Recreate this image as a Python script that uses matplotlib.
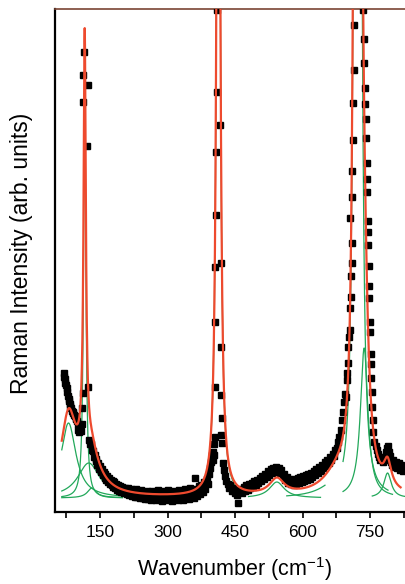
import numpy as np
import matplotlib
matplotlib.use("Agg")
import matplotlib.pyplot as plt
from matplotlib.ticker import MultipleLocator

plt.rcParams['font.family'] = ['Liberation Sans', 'DejaVu Sans']
plt.rcParams['mathtext.fontset'] = 'custom'
plt.rcParams['mathtext.rm'] = 'Liberation Sans'
plt.rcParams['mathtext.it'] = 'Liberation Sans'

# measured spectrum (wavenumber, intensity in arb. units)
wn_data = [
    70, 71, 72, 73, 74, 76, 77, 79, 80, 81, 83, 84, 86, 88, 89, 91, 93, 94, 96, 97,
    99, 100, 101, 103, 104, 106, 108, 110,
    111, 112, 112.5, 113, 115, 120, 122.7, 123,
    126, 128, 130, 132, 134, 136, 138, 140, 142, 144, 146, 148, 150, 152, 154, 156,
    158, 160, 162, 164, 166, 168, 170, 172, 174, 176, 178, 180, 182, 184, 186, 188,
    190, 192, 195, 197, 200, 203, 206, 209, 212, 215, 218, 221, 224, 227, 230, 233,
    236, 239, 242, 245, 248, 251, 254, 257, 260, 263, 266, 269, 272, 275, 278, 281,
    284, 287, 290, 293, 296, 299, 302, 305, 308, 311, 314, 317, 320, 323, 326, 329,
    332, 335, 338, 341, 344, 347, 350, 353, 356, 359, 361, 363, 366, 369, 372, 375,
    378, 381, 384, 387, 390, 392, 395, 397, 399,
    401, 402, 403, 404, 405, 405.5, 405, 406, 407, 408, 409, 409.5,
    417, 418, 419, 420, 421, 420, 421, 424, 426, 428, 431, 434, 437, 440, 443, 446,
    449, 452, 455, 457, 460, 463, 466, 469, 472, 475, 478, 481, 484, 487, 490, 493,
    496, 499, 502, 505, 508, 511, 514, 517, 520, 523, 526, 529, 532, 535, 538, 541,
    544, 547, 550, 553, 556, 559, 562, 565, 568, 571, 574, 577, 580, 583, 586, 589,
    592, 595, 598, 601, 604, 607, 610, 613, 616, 619, 622, 625, 628, 631, 634, 637,
    640, 643, 646, 649, 652, 655, 658, 661, 664, 667, 670, 673, 676, 679, 682, 685,
    688, 690, 692, 694,
    697, 699, 700, 701, 702, 704, 704.5, 705.6, 706, 707, 707.5, 709, 709.5, 710,
    710.5, 711.6, 713, 713.5, 714.4,
    735, 737, 737.5, 739, 740, 740.5, 741, 742.5, 743, 744, 745, 746, 746.5, 747.5,
    748, 748.5, 750, 750.5, 751.6, 752, 752.5, 754, 755, 756, 757, 760, 763, 765,
    767, 770, 772, 775, 778, 781, 784, 786, 788, 790, 792, 794, 796, 799, 802, 805,
    808, 811, 814, 817, 820, 823, 826,
]
raman = [
    139, 135, 133, 129, 127, 124, 120, 116, 113, 111, 108, 106, 104, 101, 100, 99, 97, 96, 94, 93,
    91, 82, 88, 86, 80, 84, 81, 88,
    104, 119, 437, 410, 460, 366, 427, 125,
    72, 68, 68, 62, 61, 55, 57, 51, 53, 47, 49, 43, 46, 40, 43, 37,
    40, 34, 38, 32, 36, 30, 34, 28, 32, 27, 31, 25, 30, 24, 28, 22,
    27, 21, 26, 20, 25, 19, 24, 18, 24, 17, 23, 16, 22, 15, 23, 15,
    21, 14, 22, 14, 20, 13, 21, 13, 20, 12, 21, 14, 19, 12, 22, 13,
    19, 11, 21, 14, 18, 12, 22, 13, 19, 11, 21, 14, 18, 12, 22, 13,
    20, 12, 23, 14, 19, 13, 24, 15, 21, 14, 34, 23, 16, 26, 18, 27,
    20, 30, 23, 33, 28, 38, 44, 50, 57,
    52, 60, 57, 68, 75, 125, 190, 245, 297, 360, 420, 502,
    387, 249, 165, 117, 94, 77, 69, 49, 42, 36, 31, 28, 24, 27, 21, 24,
    19, 22, 17, 9, 20, 23, 19, 25, 21, 27, 22, 28, 24, 29, 25, 31,
    27, 32, 29, 34, 31, 36, 33, 38, 35, 41, 37, 43, 39, 44, 40, 45,
    41, 44, 39, 42, 36, 38, 32, 35, 29, 33, 28, 32, 27, 33, 28, 34,
    29, 35, 30, 36, 31, 37, 32, 38, 33, 39, 35, 41, 37, 43, 39, 45,
    41, 47, 44, 50, 46, 52, 49, 55, 52, 58, 56, 62, 64, 70, 75, 82,
    92, 100, 110, 118,
    115, 132, 139, 165, 149, 175, 182, 204, 294, 215, 236, 249, 269, 315,
    341, 372, 409, 442, 487,
    502, 473, 449, 424, 408, 393, 374, 349, 333, 320, 291, 280, 267, 246,
    226, 214, 190, 180, 158, 148, 134, 120, 105, 92, 80, 70, 66, 62,
    58, 55, 52, 54, 50, 55, 52, 60, 64, 66, 60, 56, 50, 47, 52, 45,
    50, 44, 49, 42, 47, 41, 45,
]

# Lorentzian bands of the fit: centre, height, half width, drawn range of the
# green band curve; the strong 720 band is two lines shown as one green curve
baseline = 14
band_center = [[80], [116], [125], [132], [413], [543], [680], [716, 729], [737], [789]]
band_height = [[75], [416], [35], [10], [1180], [16], [20], [700, 700], [150], [25]]
band_hwhm = [[20], [3], [30], [12], [3.9], [20], [40], [5, 5], [10], [10]]
green_from = [65, 65, 65, 65, 360, 480, 565, 690, 690, 755]
green_to = [200, 200, 200, 200, 480, 640, 650, 790, 800, 830]
fit_from, fit_to = 65, 818

x = np.linspace(50, 850, 6000)


def lorentz(c, h, w):
    return h * w**2 / ((x - c)**2 + w**2)


comps = []
for cs, hs, ws in zip(band_center, band_height, band_hwhm):
    comps.append(sum(lorentz(c, h, w) for c, h, w in zip(cs, hs, ws)))
total = baseline + np.sum(comps, axis=0)

fig = plt.figure(figsize=(4.05, 5.84), dpi=100)
ax = fig.add_axes([55 / 405, 72 / 584, 360 / 405, 503 / 584])

for comp, a, b in zip(comps, green_from, green_to):
    m = (x >= a) & (x <= b)
    ax.plot(x[m], baseline + comp[m], color='#22a85a', lw=0.9, zorder=2)

ax.plot(wn_data, raman, ls='none', marker='s', ms=3.8, color='black', zorder=3)

m = (x >= fit_from) & (x <= fit_to)
ax.plot(x[m], total[m], color='#ee4a2e', lw=1.6, zorder=4)

ax.set_xlim(50, 850)
ax.set_ylim(0, 503)
ax.xaxis.set_major_locator(MultipleLocator(150))
ax.xaxis.set_minor_locator(MultipleLocator(75))
ax.tick_params(axis='x', which='both', direction='out', length=4.5, width=1.2,
               labelsize=12.5, pad=5)
ax.set_yticks([])

ax.spines['right'].set_visible(False)
ax.spines['top'].set_color('#7a4434')
ax.spines['top'].set_linewidth(1.2)
ax.spines['left'].set_linewidth(1.6)
ax.spines['bottom'].set_linewidth(1.6)

ax.set_xlabel('Wavenumber (cm$^{-1}$)', fontsize=15.5)
ax.xaxis.set_label_coords(0.5, -0.086)
ax.set_ylabel('Raman Intensity (arb. units)', fontsize=16.5)
ax.yaxis.set_label_coords(-0.06, 0.515)

fig.savefig('out.png', dpi=100)
